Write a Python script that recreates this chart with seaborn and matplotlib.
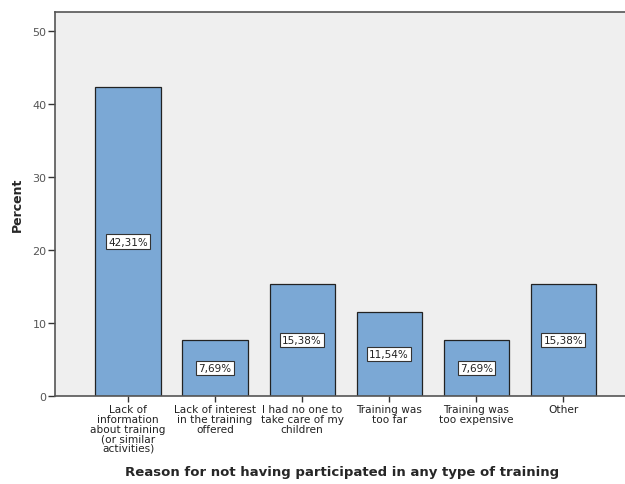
import matplotlib
matplotlib.use("Agg")
import matplotlib.pyplot as plt
import seaborn as sns
import pandas as pd

reasons = [
    "Lack of\ninformation\nabout training\n(or similar\nactivities)",
    "Lack of interest\nin the training\noffered",
    "I had no one to\ntake care of my\nchildren",
    "Training was\ntoo far",
    "Training was\ntoo expensive",
    "Other",
]
percent = [42.31, 7.69, 15.38, 11.54, 7.69, 15.38]
y_ticks = [0, 10, 20, 30, 40, 50]

df = pd.DataFrame({"reason": reasons, "percent": percent})

sns.set_style("white")
plt.rcParams["font.family"] = ["DejaVu Sans"]

fig = plt.figure(figsize=(6.25, 4.85), dpi=100)
ax = fig.add_axes([0.088, 0.1814, 0.912, 0.7918])
ax.set_facecolor("#EFEFEF")

sns.barplot(data=df, x="reason", y="percent", color="#7BA8D5", saturation=1,
            width=0.75, edgecolor="#222222", linewidth=0.9, ax=ax)

for i, v in enumerate(percent):
    ax.text(i, v / 2, f"{v:.2f}%".replace(".", ","), ha="center", va="center",
            fontsize=7.5, color="#222222",
            bbox=dict(boxstyle="square,pad=0.2", facecolor="white",
                      edgecolor="#333333", linewidth=0.8))

ax.set_xlim(-0.84, 5.71)
ax.set_ylim(0, 52.6)
ax.set_yticks(y_ticks)
ax.set_yticklabels([str(t) for t in y_ticks], fontsize=8, color="#555555")
ax.tick_params(axis="x", bottom=True, labelsize=7.6, colors="#333333",
               length=4, width=1, direction="out", pad=2)
ax.tick_params(axis="y", left=True, length=5, width=1, direction="out",
               pad=1, colors="#333333")
for lbl in ax.get_yticklabels():
    lbl.set_color("#555555")
for lbl in ax.get_xticklabels():
    lbl.set_linespacing(0.95)
    lbl.set_color("#222222")

for side in ["left", "top", "bottom"]:
    ax.spines[side].set_visible(True)
    ax.spines[side].set_color("#555555")
    ax.spines[side].set_linewidth(1.2)
ax.spines["right"].set_visible(False)

ax.set_ylabel("Percent", fontsize=9, fontweight="bold", labelpad=6)
ax.set_xlabel("Reason for not having participated in any type of training",
              fontsize=9.5, fontweight="bold")
ax.xaxis.set_label_coords(0.503, -0.18)

fig.savefig("out.png", dpi=100)
